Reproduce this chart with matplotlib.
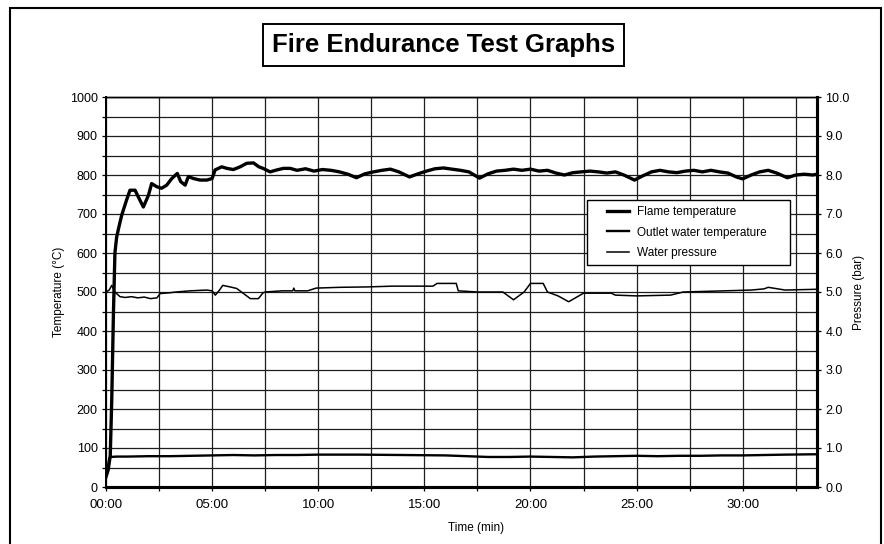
import matplotlib
matplotlib.use('Agg')
import matplotlib.pyplot as plt
from matplotlib.patches import Rectangle
from matplotlib.legend_handler import HandlerLine2D
import numpy as np

plt.rcParams['font.family'] = ['Liberation Sans', 'DejaVu Sans']

# values, time in minutes
flame_t = [0, 0.1, 0.2, 0.27, 0.35, 0.42, 0.5, 0.58, 0.74, 0.97, 1.13, 1.37, 1.52, 1.76,
           2.0, 2.15, 2.39, 2.62, 2.86, 3.1, 3.36, 3.52, 3.73, 3.88, 4.12, 4.43, 4.75,
           5.0, 5.14, 5.45, 5.69, 6.0, 6.32, 6.63, 6.95, 7.2, 7.4, 7.73, 8.05, 8.36, 8.68,
           9.0, 9.4, 9.8, 10.2, 10.6, 11.0, 11.4, 11.8, 12.2, 12.6, 13.0, 13.4, 13.8,
           14.3, 14.7, 15.1, 15.5, 15.9, 16.3, 16.7, 17.1, 17.6, 18.0, 18.4, 18.8, 19.2,
           19.6, 20.0, 20.4, 20.8, 21.2, 21.6, 22.0, 22.4, 22.8, 23.2, 23.6, 24.0, 24.4,
           24.9, 25.3, 25.7, 26.1, 26.5, 26.9, 27.3, 27.7, 28.1, 28.5, 28.9, 29.3, 29.7,
           30.0, 30.4, 30.8, 31.2, 31.6, 32.1, 32.5, 32.9, 33.3, 33.5]
flame_c = [26, 43, 80, 222, 445, 600, 640, 660, 697, 736, 761, 761, 744, 718,
           748, 778, 770, 766, 774, 791, 804, 783, 774, 796, 791, 787, 787,
           791, 813, 821, 817, 814, 821, 830, 831, 821, 817, 808, 813, 817, 817,
           812, 816, 810, 814, 812, 808, 802, 793, 803, 808, 812, 815, 808,
           795, 803, 810, 816, 818, 815, 812, 808, 792, 803, 810, 812, 815,
           812, 815, 810, 812, 805, 800, 806, 808, 810, 808, 805, 808, 800,
           787, 798, 808, 812, 808, 806, 810, 812, 808, 812, 808, 805, 795,
           790, 800, 808, 812, 805, 793, 800, 802, 800, 802]

outlet_t = [0, 0.08, 0.15, 0.2, 0.5, 1, 2, 3, 4, 5, 6, 7, 8, 9, 10, 12, 14, 16, 17,
            18, 19, 20, 21, 22, 23, 24, 25, 26, 27, 28, 29, 30, 31, 32, 33.5]
outlet_c = [30, 45, 72, 77, 78, 78, 79, 79, 80, 81, 82, 81, 82, 82, 83, 83, 82, 81, 79,
            77, 77, 78, 77, 76, 78, 79, 80, 79, 80, 80, 81, 81, 82, 83, 84]

press_t = [0, 0.15, 0.27, 0.42, 0.66, 0.9, 1.2, 1.5, 1.8, 2.1, 2.4, 2.55, 3.0, 3.3,
           3.96, 4.75, 5.0, 5.15, 5.35, 5.5, 5.85, 6.16, 6.48, 6.8, 7.18, 7.4, 7.5, 8.3,
           8.8, 8.85, 8.9, 9.5, 9.9, 11.0, 12.3, 13.5, 15.4, 15.6, 16.5, 16.6, 17.5, 18.7,
           19.2, 19.7, 20.0, 20.6, 20.8, 21.3, 21.8, 22.5, 23.8, 24.0, 25.0, 26.6, 27.2,
           28.5, 30.4, 31.0, 31.2, 32.0, 33.5]
press_bar = [5.0, 5.05, 5.17, 5.0, 4.88, 4.86, 4.88, 4.85, 4.87, 4.83, 4.85, 4.96, 4.98, 5.0,
             5.03, 5.05, 5.03, 4.92, 5.05, 5.17, 5.13, 5.09, 4.96, 4.83, 4.83, 4.98, 5.0, 5.03,
             5.03, 5.1, 5.03, 5.03, 5.10, 5.12, 5.13, 5.15, 5.15, 5.22, 5.22, 5.03, 5.0, 5.0,
             4.8, 5.0, 5.22, 5.22, 5.0, 4.9, 4.75, 4.97, 4.97, 4.92, 4.9, 4.92, 5.0,
             5.02, 5.05, 5.08, 5.12, 5.05, 5.07]

x_ticks = np.arange(0, 33, 2.5)
x_labels = ['%02d:00' % t if t % 5 == 0 else '' for t in x_ticks]
temp_ticks = np.arange(0, 1001, 100)
press_ticks = np.arange(0, 10.01, 1)


class RightLine(HandlerLine2D):
    # short legend line sitting at the right end of the handle box
    def get_xdata(self, legend, xdescent, ydescent, width, height, fontsize):
        return [-xdescent + 0.4 * width, -xdescent + width], [-xdescent + 0.7 * width]


fig = plt.figure(figsize=(8.84, 5.44), dpi=100)
fig.patches.append(Rectangle((10 / 884, -0.05), 871 / 884, 1.05 - 8 / 544,
                             transform=fig.transFigure, fill=False, ec='black', lw=1.5))

ax = fig.add_axes([106 / 884, 57 / 544, 711 / 884, 390 / 544])
ax2 = ax.twinx()

l1, = ax.plot(flame_t, flame_c, color='black', lw=2.4, label='Flame temperature')
l2, = ax.plot(outlet_t, outlet_c, color='black', lw=1.7, label='Outlet water temperature')
l3, = ax2.plot(press_t, press_bar, color='black', lw=1.1, label='Water pressure')

ax.set_xlim(0, 33.5)
ax.set_ylim(0, 1000)
ax2.set_ylim(0, 10)
ax.set_xticks(x_ticks)
ax.set_xticklabels(x_labels)
ax.set_yticks(temp_ticks)
ax.set_yticks(np.arange(0, 1001, 50), minor=True)
ax2.set_yticks(press_ticks)
ax2.set_yticklabels(['%.1f' % p for p in press_ticks])

ax.grid(True, which='both', color='#1e1e1e', lw=0.9)
ax.set_axisbelow(True)

ax.tick_params(axis='y', which='both', direction='out', length=3, width=0.9, pad=3, labelsize=9)
ax.tick_params(axis='x', direction='out', length=3, width=0.9, pad=6, labelsize=9.5)
ax2.tick_params(axis='y', direction='out', length=3, width=0.9, pad=3, labelsize=9)

for a in (ax, ax2):
    a.spines['top'].set_linewidth(1.0)
    a.spines['left'].set_linewidth(1.4)
    a.spines['bottom'].set_linewidth(2.2)
    a.spines['right'].set_linewidth(2.2)

ax.set_xlabel('Time (min)', fontsize=8.5)
ax.set_ylabel('Temperature (°C)', fontsize=8.5)
ax2.set_ylabel('Pressure (bar)', fontsize=8.5)
ax.xaxis.set_label_coords(0.52, -0.09)
ax.yaxis.set_label_coords(-0.058, 0.5)
ax2.yaxis.set_label_coords(1.05, 0.5)

leg = ax2.legend(handles=[l1, l2, l3], loc='center', mode='expand',
                 bbox_to_anchor=(0.677, 0.564, 0.285, 0.177), borderaxespad=0,
                 fontsize=8.5, handlelength=3.0, handletextpad=0.7, labelspacing=0.7,
                 borderpad=0.5, fancybox=False, framealpha=1, edgecolor='black',
                 handler_map={l1: RightLine(), l2: RightLine(), l3: RightLine()})
leg.get_frame().set_linewidth(1.0)

fig.text(0.502, 1 - 45 / 544, 'Fire Endurance Test Graphs', ha='center', va='center',
         fontsize=18.5, fontweight='bold',
         bbox=dict(boxstyle='square,pad=0.35', fc='white', ec='black', lw=1.4))

fig.savefig('out.png', dpi=100)
